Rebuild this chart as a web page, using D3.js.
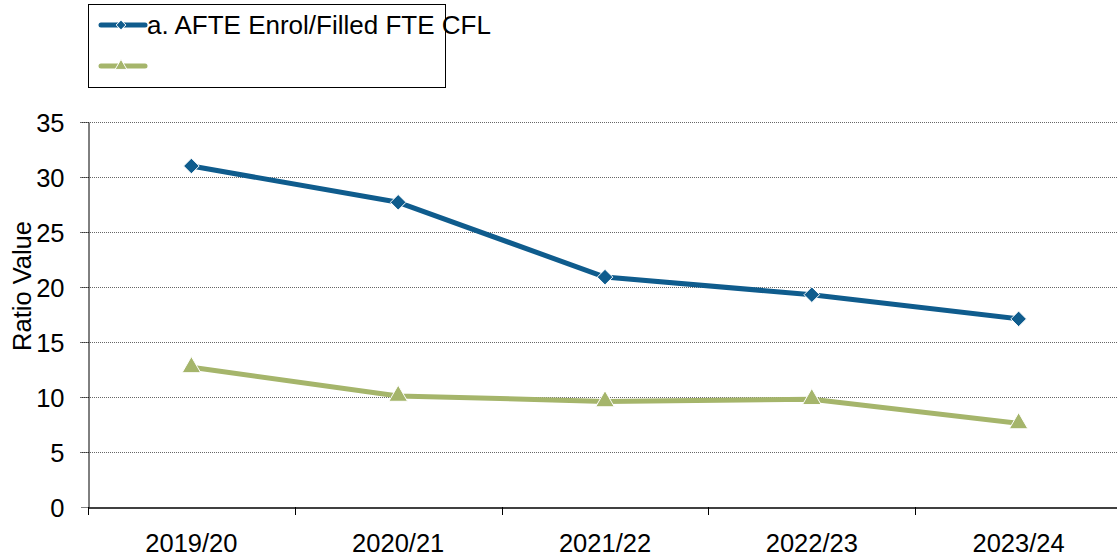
<html>
<head>
<script src="https://cdnjs.cloudflare.com/ajax/libs/d3/7.8.5/d3.min.js"></script>
<style>
  body { margin: 0; background: #fff; }
  text { font-family: "Liberation Sans", Arial, sans-serif; fill: #000; }
</style>
</head>
<body>
<div id="chart"></div>
<script>
const years = ["2019/20", "2020/21", "2021/22", "2022/23", "2023/24"];
const enrolRatio = [31.0, 27.7, 20.9, 19.3, 17.1];
const secondRatio = [12.7, 10.1, 9.6, 9.8, 7.6];
const yTicks = [0, 5, 10, 15, 20, 25, 30, 35];
const legendLabels = ["a. AFTE Enrol/Filled FTE CFL", ""];

const W = 1117, H = 558;
const plotLeft = 88, plotTop = 122, plotBottom = 507, plotRight = 1122;
const fontSize = "25.5px";

const svg = d3.select("#chart").append("svg")
  .attr("width", W).attr("height", H);

const x = d3.scaleBand().domain(years).range([plotLeft, plotRight]);
const y = d3.scaleLinear().domain([0, 35]).range([plotBottom, plotTop]);

// gridlines
svg.append("g").selectAll("line")
  .data(yTicks.filter(d => d > 0))
  .enter().append("line")
  .attr("x1", plotLeft - 8).attr("x2", W)
  .attr("y1", d => y(d) + 0.5).attr("y2", d => y(d) + 0.5)
  .attr("stroke", "#666").attr("stroke-width", 1)
  .attr("stroke-dasharray", "1,1");

// y axis
const yAxis = svg.append("g")
  .attr("transform", `translate(${plotLeft + 0.5},0)`)
  .call(d3.axisLeft(y).tickValues(yTicks).tickSize(8).tickSizeOuter(0));
yAxis.select(".domain").attr("stroke", "#000");
yAxis.selectAll(".tick line").attr("stroke", "#000").attr("stroke-dasharray", "1,1");
yAxis.selectAll("text").style("font-size", fontSize).attr("x", -24).attr("dy", "0.36em");

// x axis
const xAxis = svg.append("g")
  .attr("transform", `translate(0,${plotBottom + 0.5})`)
  .call(d3.axisBottom(x).tickSize(0).tickSizeOuter(0));
xAxis.select(".domain").attr("stroke", "#000").attr("stroke-width", 1.5);
xAxis.selectAll("text").style("font-size", fontSize).attr("y", 0).attr("dy", "1.75em");
svg.append("g").selectAll("line")
  .data(years)
  .enter().append("line")
  .attr("x1", d => Math.round(x(d)) + 0.5).attr("x2", d => Math.round(x(d)) + 0.5)
  .attr("y1", plotBottom).attr("y2", plotBottom + 8)
  .attr("stroke", "#000");

svg.append("text")
  .attr("transform", "translate(31,286) rotate(-90)")
  .attr("text-anchor", "middle")
  .style("font-size", fontSize)
  .text("Ratio Value");

const cx = d => x(d) + x.bandwidth() / 2;
const line = d3.line().x((d, i) => cx(years[i])).y(d => y(d));

const series = [
  { values: enrolRatio, color: "#0F5C8D", symbol: d3.symbolDiamond2, size: 155 },
  { values: secondRatio, color: "#A5B56B", symbol: d3.symbolTriangle, size: 150 }
];

series.forEach(s => {
  svg.append("path")
    .datum(s.values)
    .attr("d", line)
    .attr("fill", "none")
    .attr("stroke", s.color)
    .attr("stroke-width", 5)
    .attr("stroke-linejoin", "round");
  svg.append("g").selectAll("path")
    .data(s.values)
    .enter().append("path")
    .attr("d", d3.symbol().type(s.symbol).size(s.size))
    .attr("transform", (d, i) => `translate(${cx(years[i])},${y(d)})`)
    .attr("fill", s.color)
    .attr("stroke", "#fff").attr("stroke-width", 1);
});

// legend
const lg = svg.append("g");
lg.append("rect")
  .attr("x", 88.5).attr("y", 4.5).attr("width", 357).attr("height", 83)
  .attr("fill", "none").attr("stroke", "#000");
series.forEach((s, i) => {
  const ly = 25 + i * 41;
  lg.append("line")
    .attr("x1", 101).attr("x2", 145).attr("y1", ly).attr("y2", ly)
    .attr("stroke", s.color).attr("stroke-width", 5).attr("stroke-linecap", "round");
  lg.append("path")
    .attr("d", d3.symbol().type(s.symbol).size(60))
    .attr("transform", `translate(121,${ly})`)
    .attr("fill", s.color).attr("stroke", "#fff").attr("stroke-width", 1);
  lg.append("text")
    .attr("x", 147).attr("y", ly + 9)
    .style("font-size", "26px")
    .text(legendLabels[i]);
});
</script>
</body>
</html>
